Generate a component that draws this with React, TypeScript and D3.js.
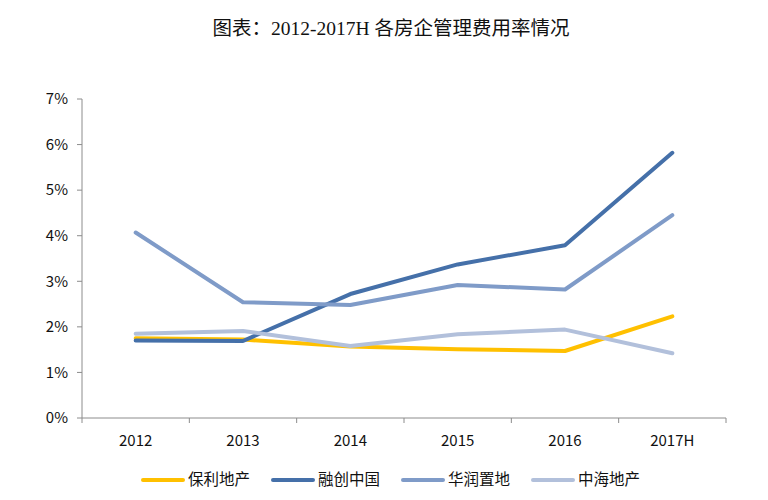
import { useMemo } from "react";
import * as d3 from "d3";

// Years on the x axis
const YEARS = ["2012", "2013", "2014", "2015", "2016", "2017H"];

// Management expense ratio (%) per developer
const POLY = [1.75, 1.72, 1.57, 1.51, 1.47, 2.23];
const SUNAC = [1.70, 1.69, 2.72, 3.37, 3.79, 5.82];
const CR_LAND = [4.07, 2.54, 2.48, 2.92, 2.82, 4.45];
const COLI = [1.85, 1.91, 1.58, 1.84, 1.94, 1.42];

const SERIES_NAMES = ["保利地产", "融创中国", "华润置地", "中海地产"];
const SERIES_COLORS = ["#FFC000", "#4570A9", "#7F9BC8", "#B2C0DB"];

const Y_TICKS = [0, 1, 2, 3, 4, 5, 6, 7];

const W = 768;
const H = 500;
const FONT = "'Noto Sans CJK SC', 'Noto Sans', sans-serif";

export default function App() {
  const margin = { top: 99, right: 42, bottom: 82, left: 82 };

  const x = useMemo(
    () =>
      d3
        .scalePoint<string>()
        .domain(YEARS)
        .range([margin.left, W - margin.right])
        .padding(0.5),
    []
  );
  const band = x.step();
  const y = useMemo(
    () => d3.scaleLinear().domain([0, 7]).range([H - margin.bottom, margin.top]),
    []
  );

  const series = [POLY, SUNAC, CR_LAND, COLI];
  const line = d3
    .line<number>()
    .x((_, i) => x(YEARS[i]) || 0)
    .y((d) => y(d));

  const axisColor = "#8c8c8c";
  const x0 = margin.left;
  const x1 = W - margin.right;
  const yBase = y(0);

  // legend layout
  const legendX = [143, 273, 403, 533];
  const legendY = 480;

  return (
    <svg
      width={W}
      height={H}
      style={{ position: "absolute", left: 0, top: 0, background: "#fff" }}
      fontFamily={FONT}
    >
      <text
        x={391}
        y={35}
        textAnchor="middle"
        fontSize={19.5}
        fontFamily="'Liberation Serif', 'Noto Sans CJK SC', serif"
        fill="#111"
      >
        图表：2012-2017H 各房企管理费用率情况
      </text>

      {/* y axis */}
      <line x1={x0} x2={x0} y1={y(7)} y2={yBase} stroke={axisColor} strokeWidth={1} />
      {Y_TICKS.map((t) => (
        <g key={t}>
          <line x1={x0 - 5} x2={x0} y1={y(t)} y2={y(t)} stroke={axisColor} />
          <text
            x={x0 - 14}
            y={y(t)}
            dy="0.35em"
            textAnchor="end"
            fontSize={15}
            fill="#111"
          >
            {`${t}%`}
          </text>
        </g>
      ))}

      {/* x axis */}
      <line x1={x0} x2={x1} y1={yBase} y2={yBase} stroke={axisColor} strokeWidth={1} />
      {d3.range(YEARS.length + 1).map((i) => {
        const tx = x0 + i * band;
        return <line key={i} x1={tx} x2={tx} y1={yBase} y2={yBase + 5} stroke={axisColor} />;
      })}
      {YEARS.map((yr) => (
        <text key={yr} x={x(yr)} y={yBase + 28} textAnchor="middle" fontSize={15} fill="#111">
          {yr}
        </text>
      ))}

      {/* lines */}
      {series.map((s, i) => (
        <path
          key={SERIES_NAMES[i]}
          d={line(s) || ""}
          fill="none"
          stroke={SERIES_COLORS[i]}
          strokeWidth={4}
          strokeLinejoin="round"
          strokeLinecap="round"
        />
      ))}

      {/* legend */}
      {SERIES_NAMES.map((name, i) => (
        <g key={name}>
          <line
            x1={legendX[i]}
            x2={legendX[i] + 40}
            y1={legendY}
            y2={legendY}
            stroke={SERIES_COLORS[i]}
            strokeWidth={4}
            strokeLinecap="round"
          />
          <text x={legendX[i] + 45} y={legendY} dy="0.35em" fontSize={15.5} fill="#111">
            {name}
          </text>
        </g>
      ))}
    </svg>
  );
}
